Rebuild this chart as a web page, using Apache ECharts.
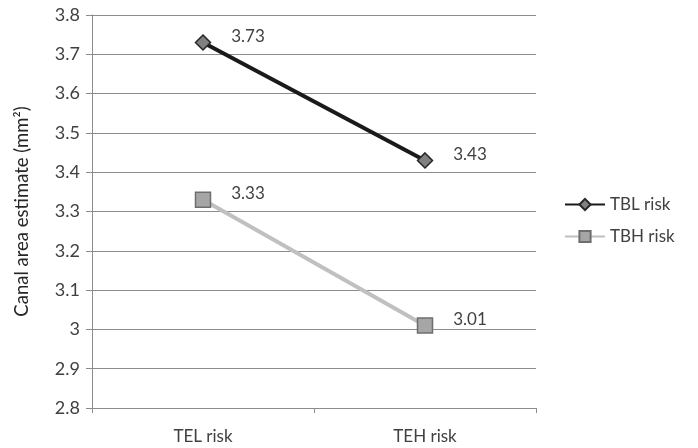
<!DOCTYPE html>
<html><head><meta charset="utf-8">
<script src="https://cdn.jsdelivr.net/npm/echarts@6/dist/echarts.min.js"></script>
<style>html,body{margin:0;padding:0;background:#fff}#c{width:698px;height:448px}</style>
</head><body><div id="c"></div>
<script>
const categories = ['TEL risk', 'TEH risk'];
const tblRisk = [3.73, 3.43];
const tbhRisk = [3.33, 3.01];
const yTicks = { min: 2.8, max: 3.8, interval: 0.1 };

const chart = echarts.init(document.getElementById('c'));
const font = 'Lato';
const lbl = {
  show: true, position: 'right', distance: 0, offset: [20, -6],
  color: '#404040', fontFamily: font, fontSize: 17
};
chart.setOption({
  animation: false,
  grid: { left: 92, right: 162, top: 15, bottom: 40 },
  legend: {
    orient: 'vertical', left: 559, top: 191, itemWidth: 40, itemHeight: 14, itemGap: 15,
    textStyle: { color: '#404040', fontFamily: font, fontSize: 17 },
    data: ['TBL risk', 'TBH risk']
  },
  xAxis: {
    type: 'category', data: categories, boundaryGap: true,
    axisLine: { lineStyle: { color: '#8c8c8c', width: 1 } },
    axisTick: { show: true, length: 5, lineStyle: { color: '#8c8c8c' } },
    axisLabel: { color: '#404040', fontFamily: font, fontSize: 17, margin: 20 }
  },
  yAxis: {
    type: 'value', min: yTicks.min, max: yTicks.max, interval: yTicks.interval,
    name: 'Canal area estimate (mm²)', nameLocation: 'middle', nameGap: 60,
    nameTextStyle: { color: '#262626', fontFamily: font, fontSize: 18.5 },
    axisLine: { show: true, lineStyle: { color: '#8c8c8c' } },
    axisTick: { show: true, length: 6, lineStyle: { color: '#8c8c8c' } },
    splitLine: { lineStyle: { color: '#8c8c8c', width: 1 } },
    axisLabel: {
      color: '#404040', fontFamily: font, fontSize: 18, margin: 12,
      formatter: v => String(Math.round(v * 10) / 10)
    }
  },
  series: [
    {
      name: 'TBL risk', type: 'line', data: tblRisk,
      symbol: 'diamond', symbolSize: 15,
      lineStyle: { color: '#1a1a1a', width: 4 },
      itemStyle: { color: '#808080', borderColor: '#262626', borderWidth: 1.5 },
      label: lbl, z: 3
    },
    {
      name: 'TBH risk', type: 'line', data: tbhRisk,
      symbol: 'rect', symbolSize: 15,
      lineStyle: { color: '#c0c0c0', width: 4 },
      itemStyle: { color: '#a6a6a6', borderColor: '#6e6e6e', borderWidth: 1.5 },
      label: lbl, z: 2
    }
  ]
});
</script></body></html>
